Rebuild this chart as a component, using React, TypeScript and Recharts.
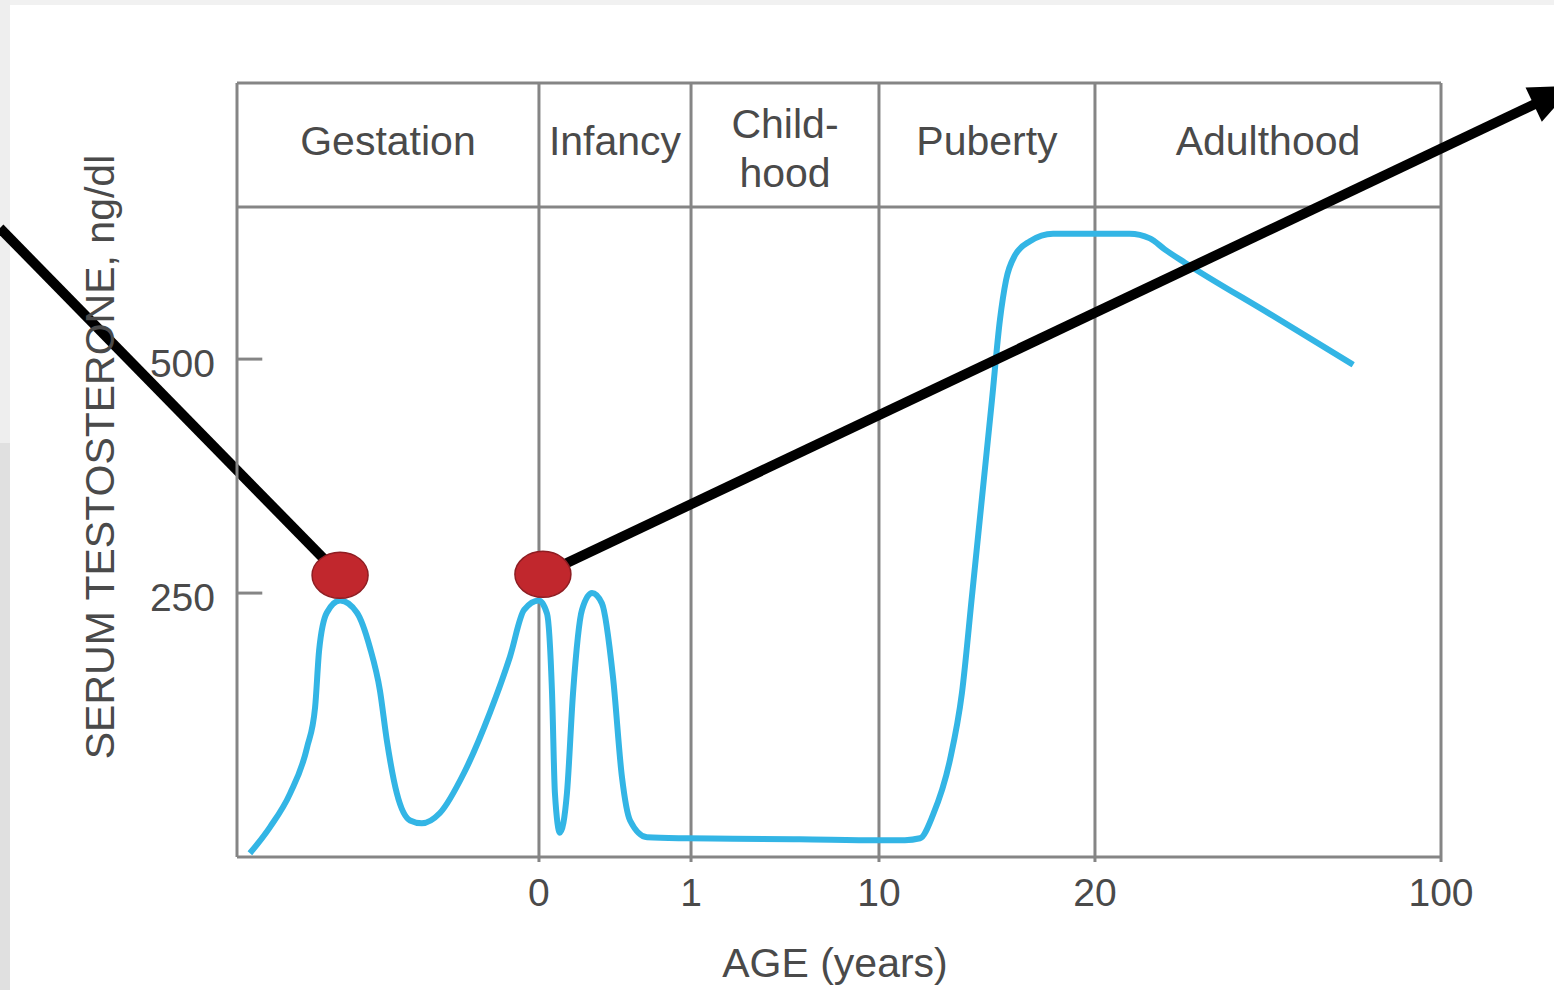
import React from "react";
import {
  LineChart,
  Line,
  XAxis,
  YAxis,
  ReferenceLine,
  ReferenceArea,
  ReferenceDot,
} from "recharts";

// life stages and where their borders fall on the broken age axis
const STAGES = ["Gestation", "Infancy", "Child-\nhood", "Puberty", "Adulthood"];
const STAGE_AGES = [-0.75, 0, 1, 10, 20, 100]; // years, gestation counted back from birth
const STAGE_POS = [0, 25.08, 37.71, 53.32, 71.26, 100]; // axis units
const AGE_TICK_LABELS = ["0", "1", "10", "20", "100"];
const T_TICKS = [250, 500];

// serum testosterone, ng/dl
const AGES = [
  -0.718, -0.668, -0.618, -0.576, -0.556, -0.546, -0.527, -0.494, -0.452, -0.42, -0.395,
  -0.378, -0.353, -0.32, -0.291, -0.246, -0.186, -0.122, -0.072, -0.037, 0,
  0.053, 0.086, 0.105, 0.138, 0.184, 0.224, 0.283, 0.349, 0.414, 0.487, 0.546, 0.599, 0.711, 0.974,
  3, 6.2, 10,
  11.2, 11.9, 12.5, 13.29, 13.84, 14.31, 14.77, 15.23, 15.6, 15.88, 16.3, 16.99, 18.06, 20,
  28, 32.7, 36.2, 40.8, 60.5, 79.7,
];
const TESTOSTERONE = [
  -28, 0, 36, 85, 128, 189, 229, 242, 229, 192, 146,
  93, 36, 7, 4, 15, 58, 122, 182, 232, 242,
  228, 143, 36, -6, 36, 143, 232, 250, 239, 160, 53, 7, -11, -12,
  -12.5, -13, -14,
  -14, -12, 13, 72, 143, 248, 352, 456, 542, 584, 611, 626, 634, 634,
  634, 629, 617, 603, 548, 494,
];

// red markers on the two early peaks
const MARKER_AGES = [-0.494, 0.026];
const MARKER_VALUES = [269, 270];

// black arrows (axis units / ng/dl); they run off the chart
const ARROW_TAIL_POS = [-19.7, 25.42];
const ARROW_TAIL_VAL = [640, 270];
const ARROW_END_POS = [8.55, 111];
const ARROW_END_VAL = [269, 792];
const ARROW_HEAD = [false, true];

const Y_MIN = -32;
const Y_MAX = 795;
const HEADER_BASE = 662.4;

const FONT = "'Liberation Sans', Arial, Helvetica, sans-serif";
const TEXT = "#4a4a4a";
const RULE = "#858585";
const CURVE = "#33b5e5";

function ageToPos(age: number) {
  for (let i = 0; i < STAGE_AGES.length - 1; i++) {
    const a0 = STAGE_AGES[i];
    const a1 = STAGE_AGES[i + 1];
    if (age <= a1 || i === STAGE_AGES.length - 2) {
      const f = (age - a0) / (a1 - a0);
      return STAGE_POS[i] + f * (STAGE_POS[i + 1] - STAGE_POS[i]);
    }
  }
  return 0;
}

const curveData = AGES.map((age, i) => ({ pos: ageToPos(age), t: TESTOSTERONE[i] }));

const arrowShape = (head: boolean) => (props: any) => {
  const { x1, y1, x2, y2 } = props;
  if (!head) {
    return <line x1={x1} y1={y1} x2={x2} y2={y2} stroke="#000" strokeWidth={10} />;
  }
  const dx = x2 - x1;
  const dy = y2 - y1;
  const len = Math.hypot(dx, dy) || 1;
  const ux = dx / len;
  const uy = dy / len;
  const hl = 44;
  const hw = 19;
  const bx = x2 - ux * hl;
  const by = y2 - uy * hl;
  return (
    <g>
      <line x1={x1} y1={y1} x2={bx + ux * 2} y2={by + uy * 2} stroke="#000" strokeWidth={10} />
      <polygon
        points={`${x2},${y2} ${bx - uy * hw},${by + ux * hw} ${bx + uy * hw},${by - ux * hw}`}
        fill="#000"
      />
    </g>
  );
};

const markerShape = (props: any) => (
  <ellipse cx={props.cx} cy={props.cy} rx={28} ry={23} fill="#c1272d" stroke="#8e1d22" strokeWidth={1.5} />
);

const stageLabel = (text: string) => (props: any) => {
  const vb = props.viewBox || { x: 0, y: 0, width: 0, height: 0 };
  const cx = vb.x + vb.width / 2;
  const lines = text.split("\n");
  const baselines = lines.length > 1 ? [55, 104] : [72];
  return (
    <text textAnchor="middle" fill={TEXT} fontSize={41} fontFamily={FONT}>
      {lines.map((l, i) => (
        <tspan key={i} x={cx} y={vb.y + baselines[i]}>
          {l}
        </tspan>
      ))}
    </text>
  );
};

const YTick = (props: any) => (
  <text x={props.x} y={props.y + 4} dy="0.36em" textAnchor="end" fill={TEXT} fontSize={39} fontFamily={FONT}>
    {props.payload.value}
  </text>
);

const XTick = (props: any) => {
  const idx = STAGE_POS.indexOf(props.payload.value);
  return (
    <text x={props.x} y={props.y + 44} textAnchor="middle" fill={TEXT} fontSize={39} fontFamily={FONT}>
      {AGE_TICK_LABELS[idx - 1]}
    </text>
  );
};

const YLabel = (props: any) => {
  const vb = props.viewBox || { x: 0, y: 83, width: 237, height: 774 };
  const x = vb.x + 114;
  const y = vb.y + vb.height / 2 - 13;
  return (
    <text
      x={x}
      y={y}
      transform={`rotate(-90 ${x} ${y})`}
      textAnchor="middle"
      fill={TEXT}
      fontSize={41}
      fontFamily={FONT}
    >
      SERUM TESTOSTERONE, ng/dl
    </text>
  );
};

const XLabel = (props: any) => {
  const vb = props.viewBox || { x: 237, y: 857, width: 1204, height: 133 };
  return (
    <text x={vb.x + vb.width / 2 - 4} y={vb.y + 120} textAnchor="middle" fill={TEXT} fontSize={41} fontFamily={FONT}>
      AGE (years)
    </text>
  );
};

export default function App() {
  return (
    <div style={{ position: "absolute", left: 0, top: 0, width: 1554, height: 990, background: "#fff" }}>
      <div style={{ position: "absolute", left: 0, top: 0, width: 1554, height: 5, background: "#f1f1f1" }} />
      <div style={{ position: "absolute", left: 0, top: 0, width: 10, height: 443, background: "#eeeeee" }} />
      <div style={{ position: "absolute", left: 0, top: 443, width: 10, height: 547, background: "#e0e0e0" }} />
      <div style={{ position: "absolute", left: 0, top: 0 }}>
        <LineChart
          width={1554}
          height={990}
          data={curveData}
          margin={{ top: 83, right: 113, bottom: 0, left: 0 }}
        >
          <XAxis
            dataKey="pos"
            type="number"
            domain={[0, 100]}
            ticks={STAGE_POS.slice(1)}
            tick={XTick}
            tickSize={5}
            tickMargin={0}
            tickLine={{ stroke: RULE, strokeWidth: 3 }}
            axisLine={{ stroke: RULE, strokeWidth: 3 }}
            height={133}
            allowDataOverflow
            label={{ content: XLabel }}
          />
          <YAxis
            type="number"
            domain={[Y_MIN, Y_MAX]}
            ticks={T_TICKS}
            tick={YTick}
            tickSize={0}
            tickMargin={22}
            tickLine={false}
            axisLine={{ stroke: RULE, strokeWidth: 3 }}
            width={237}
            allowDataOverflow
            label={{ content: YLabel }}
          />

          {/* header band with the life stages */}
          {STAGES.map((s, i) => (
            <ReferenceArea
              key={s}
              x1={STAGE_POS[i]}
              x2={STAGE_POS[i + 1]}
              y1={HEADER_BASE}
              y2={Y_MAX}
              fill="none"
              fillOpacity={0}
              stroke="none"
              ifOverflow="visible"
              label={stageLabel(s)}
            />
          ))}
          <ReferenceLine y={HEADER_BASE} stroke={RULE} strokeWidth={3} />
          <ReferenceLine y={Y_MAX} stroke={RULE} strokeWidth={3} ifOverflow="visible" />
          {STAGE_POS.slice(1).map((p) => (
            <ReferenceLine key={p} x={p} stroke={RULE} strokeWidth={3} ifOverflow="visible" />
          ))}
          {T_TICKS.map((t) => (
            <ReferenceLine
              key={t}
              segment={[
                { x: 0, y: t },
                { x: 2.1, y: t },
              ]}
              stroke={RULE}
              strokeWidth={3}
            />
          ))}

          <Line
            dataKey="t"
            type="monotone"
            stroke={CURVE}
            strokeWidth={6}
            dot={false}
            activeDot={false}
            isAnimationActive={false}
          />

          {ARROW_TAIL_POS.map((p, i) => (
            <ReferenceLine
              key={"arrow" + i}
              segment={[
                { x: p, y: ARROW_TAIL_VAL[i] },
                { x: ARROW_END_POS[i], y: ARROW_END_VAL[i] },
              ]}
              ifOverflow="visible"
              shape={arrowShape(ARROW_HEAD[i])}
            />
          ))}
          {MARKER_AGES.map((a, i) => (
            <ReferenceDot
              key={"m" + i}
              x={ageToPos(a)}
              y={MARKER_VALUES[i]}
              r={25}
              ifOverflow="visible"
              shape={markerShape}
            />
          ))}
        </LineChart>
      </div>
    </div>
  );
}
